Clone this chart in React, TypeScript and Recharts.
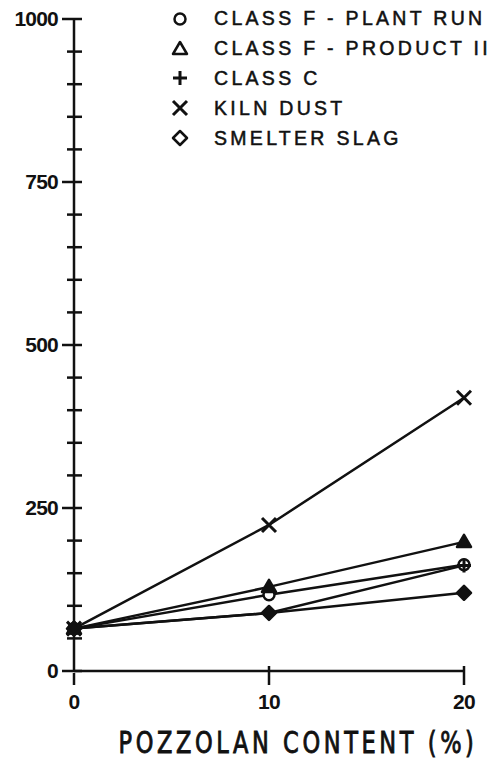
import React from 'react';
import { LineChart, Line, XAxis, YAxis } from 'recharts';

// pozzolan content (%) and values for each pozzolan type
const pozzolan = [0, 10, 20];
const plantRun = [65, 117, 163];
const productII = [65, 129, 198];
const classC = [65, 89, 162];
const kilnDust = [65, 224, 419];
const smelterSlag = [65, 89, 120];

const yTicks = Array.from({ length: 21 }, (_, i) => i * 50);
const yLabels = [0, 250, 500, 750, 1000];
const xTicks = [0, 10, 20];

const data = pozzolan.map((p, i) => ({
  p,
  plantRun: plantRun[i],
  productII: productII[i],
  classC: classC[i],
  kilnDust: kilnDust[i],
  smelterSlag: smelterSlag[i],
}));

const INK = '#111';
const TICK_FONT = '"Liberation Sans", Arial, sans-serif';
const tickText = { fontFamily: TICK_FONT, fontWeight: 'bold', fontSize: 21, fill: INK } as const;

type Shape = 'circle' | 'triangle' | 'plus' | 'cross' | 'diamond';

const Marker = ({ shape, cx, cy, filled }: { shape: Shape; cx: number; cy: number; filled?: boolean }) => {
  const fill = filled ? INK : '#fff';
  switch (shape) {
    case 'circle':
      return <circle cx={cx} cy={cy} r={5.5} fill={fill} stroke={INK} strokeWidth={2.5} />;
    case 'triangle':
      return (
        <polygon
          points={`${cx},${cy - 7} ${cx + 7},${cy + 5} ${cx - 7},${cy + 5}`}
          fill={fill}
          stroke={INK}
          strokeWidth={2.5}
          strokeLinejoin="round"
        />
      );
    case 'plus':
      return (
        <path d={`M${cx - 7},${cy}H${cx + 7}M${cx},${cy - 7}V${cy + 7}`} stroke={INK} strokeWidth={3} />
      );
    case 'cross':
      return (
        <path
          d={`M${cx - 7},${cy - 7}L${cx + 7},${cy + 7}M${cx + 7},${cy - 7}L${cx - 7},${cy + 7}`}
          stroke={INK}
          strokeWidth={3}
        />
      );
    case 'diamond':
      return (
        <polygon
          points={`${cx},${cy - 7} ${cx + 7},${cy} ${cx},${cy + 7} ${cx - 7},${cy}`}
          fill={fill}
          stroke={INK}
          strokeWidth={2.5}
          strokeLinejoin="round"
        />
      );
  }
};

const dotFor = (shape: Shape, filled?: boolean) => (props: any) => (
  <Marker key={`${shape}-${props.index}`} shape={shape} cx={props.cx} cy={props.cy} filled={filled} />
);

const series: { key: string; name: string; shape: Shape; filled?: boolean }[] = [
  { key: 'plantRun', name: 'CLASS F - PLANT RUN', shape: 'circle' },
  { key: 'productII', name: 'CLASS F - PRODUCT II', shape: 'triangle', filled: true },
  { key: 'classC', name: 'CLASS C', shape: 'plus' },
  { key: 'kilnDust', name: 'KILN DUST', shape: 'cross' },
  { key: 'smelterSlag', name: 'SMELTER SLAG', shape: 'diamond', filled: true },
];

const YTick = (props: any) => {
  const { x, y, payload } = props;
  const major = yLabels.includes(payload.value);
  return (
    <g>
      <line x1={major ? x - 12 : x - 7} x2={x + 8} y1={y} y2={y} stroke={INK} strokeWidth={2.5} />
      {major && (
        <text x={x - 16} y={y} dy="0.35em" textAnchor="end" style={{ ...tickText, letterSpacing: -0.8 }}>
          {payload.value}
        </text>
      )}
    </g>
  );
};

const XTick = (props: any) => {
  const { x, y, payload } = props;
  return (
    <g>
      <line x1={x} x2={x} y1={payload.value === 0 ? y : y - 7} y2={y + 12} stroke={INK} strokeWidth={2.5} />
      <text x={x} y={y + 29} dy="0.35em" textAnchor="middle" style={{ ...tickText, letterSpacing: -0.8 }}>
        {payload.value}
      </text>
    </g>
  );
};

// axis title: tall, narrow lettering under the x axis
const XTitle = (props: any) => {
  const { viewBox } = props;
  const cx = viewBox.x + viewBox.width / 2 + 29;
  const by = viewBox.y + 82;
  return (
    <text
      x={0}
      y={0}
      transform={`translate(${cx},${by}) scale(1,1.2)`}
      textAnchor="middle"
      style={{
        fontFamily: '"DejaVu Sans Condensed", "DejaVu Sans", sans-serif',
        fontSize: 25,
        letterSpacing: 3.6,
        fill: INK,
        stroke: INK,
        strokeWidth: 0.7,
      }}
    >
      POZZOLAN CONTENT (%)
    </text>
  );
};

const LegendBox = () => (
  <div
    style={{
      position: 'absolute',
      left: 166,
      top: 4,
      fontFamily: TICK_FONT,
      fontSize: 19.5,
      letterSpacing: 3.3,
      color: INK,
      whiteSpace: 'nowrap',
    }}
  >
    {series.map((s) => (
      <div key={s.key} style={{ display: 'flex', alignItems: 'center', height: 29.8 }}>
        <svg width={28} height={24} style={{ marginRight: 20 }}>
          <Marker shape={s.shape} cx={14} cy={12} />
        </svg>
        <span style={{ WebkitTextStroke: '0.5px #111' }}>{s.name}</span>
      </div>
    ))}
  </div>
);

export default function App() {
  return (
    <div style={{ position: 'absolute', left: 0, top: 0, width: 498, height: 760, background: '#fff' }}>
      <LineChart width={498} height={760} data={data} margin={{ top: 19, right: 34, left: 14, bottom: 0 }}>
        <XAxis
          dataKey="p"
          type="number"
          domain={[0, 20]}
          ticks={xTicks}
          tick={<XTick />}
          tickLine={false}
          tickSize={0}
          height={89}
          axisLine={{ stroke: INK, strokeWidth: 2.5 }}
          label={<XTitle />}
        />
        <YAxis
          type="number"
          domain={[0, 1000]}
          ticks={yTicks}
          interval={0}
          tick={<YTick />}
          tickLine={false}
          tickSize={0}
          tickMargin={0}
          width={60}
          axisLine={{ stroke: INK, strokeWidth: 2.5 }}
        />
        {series.map((s) => (
          <Line
            key={s.key}
            type="linear"
            dataKey={s.key}
            name={s.name}
            stroke={INK}
            strokeWidth={2.5}
            dot={dotFor(s.shape, s.filled)}
            isAnimationActive={false}
          />
        ))}
      </LineChart>
      <LegendBox />
    </div>
  );
}
